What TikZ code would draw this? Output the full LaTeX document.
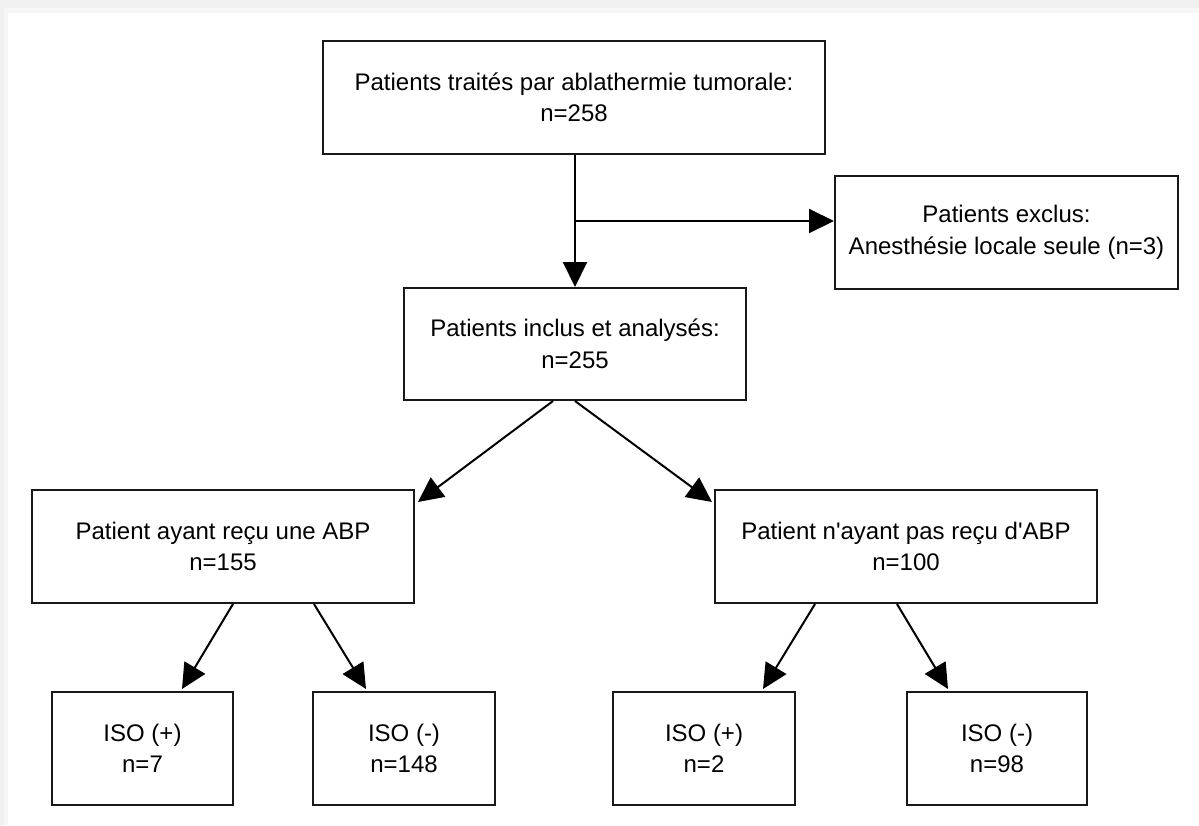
\documentclass[tikz,border=0pt]{standalone}
\usepackage{fontspec}
\setmainfont{Liberation Sans}[Ligatures=TeXOff]
\usetikzlibrary{arrows.meta}
\begin{document}
\begin{tikzpicture}[x=1pt,y=-1pt,
  box/.style={draw=black!90, line width=2pt, fill=white, inner sep=0pt, align=center,
    font=\fontsize{24}{31.5}\selectfont},
  conn/.style={draw=black, line width=2pt, -{Triangle[length=25pt,width=24pt]}}]
% page background
\fill[black!6] (0,0) rectangle (1199,825);
\fill[black!3] (4,8) rectangle (1199,825);
\fill[white] (8,13) rectangle (1199,825);
\useasboundingbox (0,0) rectangle (1199,825);
% nodes
\node[box, minimum width=502pt, minimum height=113pt] (top) at (574,97.5)
  {Patients traités par ablathermie tumorale:\\n=258};
\node[box, minimum width=343pt, minimum height=113pt] (excl) at (1006.5,232.5)
  {Patients exclus:\\Anesthésie locale seule (n=3)};
\node[box, minimum width=342pt, minimum height=112pt] (mid) at (575,344)
  {Patients inclus et analysés:\\n=255};
\node[box, minimum width=382pt, minimum height=113pt] (abp) at (223,546.5)
  {Patient ayant reçu une ABP\\n=155};
\node[box, minimum width=382pt, minimum height=113pt] (nabp) at (906,546.5)
  {Patient n'ayant pas reçu d'ABP\\n=100};
\node[box, minimum width=181pt, minimum height=113pt] (iso1) at (142.5,748.5) {ISO (+)\\n=7};
\node[box, minimum width=182pt, minimum height=113pt] (iso2) at (404,748.5) {ISO (-)\\n=148};
\node[box, minimum width=182pt, minimum height=113pt] (iso3) at (704,748.5) {ISO (+)\\n=2};
\node[box, minimum width=180pt, minimum height=113pt] (iso4) at (997,748.5) {ISO (-)\\n=98};
% connectors
\coordinate (branch) at (575,221);
\draw[conn] ([xshift=1pt]top.south) -- (mid.north);
\draw[conn] (branch) -- (excl.west |- branch);
\draw[conn] ([xshift=-22pt]mid.south) -- ([xshift=3pt,yshift=-13pt]abp.north east);
\draw[conn] (mid.south) -- ([xshift=-2pt,yshift=-13pt]nabp.north west);
\draw[conn] ([xshift=10pt]abp.south) -- ([xshift=39.5pt,yshift=2pt]iso1.north);
\draw[conn] ([xshift=91pt]abp.south) -- ([xshift=-38pt,yshift=2pt]iso2.north);
\draw[conn] ([xshift=-91pt]nabp.south) -- ([xshift=59pt,yshift=2pt]iso3.north);
\draw[conn] ([xshift=-9pt]nabp.south) -- ([xshift=-49pt,yshift=2pt]iso4.north);
\end{tikzpicture}
\end{document}
